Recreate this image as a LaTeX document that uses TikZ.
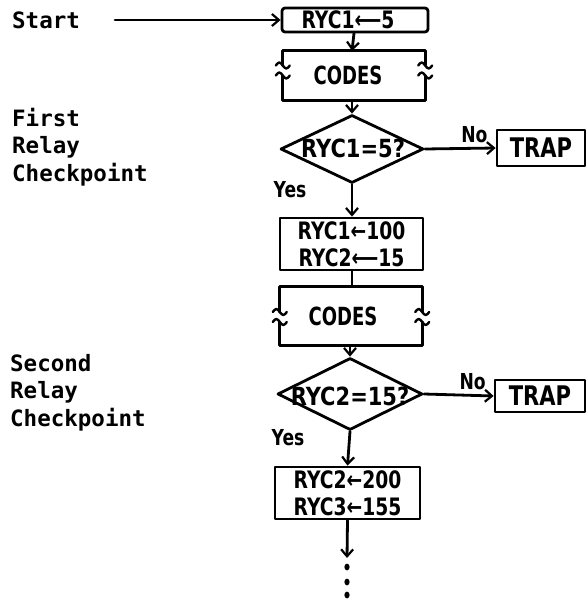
\documentclass[tikz,border=0pt]{standalone}
\usepackage{fontspec}
\usetikzlibrary{arrows.meta,positioning,calc,shapes.geometric}
\newfontfamily\boxfont[FakeStretch=0.78]{DejaVu Sans}
\newfontfamily\codesfont[FakeStretch=0.72]{DejaVu Sans}
\newfontfamily\testfont[FakeStretch=0.84]{DejaVu Sans}
\newfontfamily\sidefont{DejaVu Sans Mono}
\tikzset{
    every picture/.style={line cap=round,line join=round},
    flow/.style={-{Straight Barb[length=7pt,width=12pt,line width=2.2pt]},line width=2.8pt},
    link/.style={line width=2.8pt},
    stepbox/.style={draw,line width=2.8pt,inner sep=0pt,align=center,
      font=\boxfont\bfseries\fontsize{24}{27}\selectfont},
    trapbox/.style={stepbox,font=\boxfont\bfseries\fontsize{27}{27}\selectfont},
    codesbox/.style={inner sep=0pt,font=\codesfont\bfseries\fontsize{25}{27}\selectfont},
    decision/.style={diamond,draw,line width=2.8pt,inner sep=0pt},
    testtext/.style={inner sep=0pt,font=\testfont\bfseries\fontsize{25}{27}\selectfont},
    sidelabel/.style={inner sep=0pt,align=left,
      font=\sidefont\bfseries\fontsize{22.5}{27.5}\selectfont},
    flowlabel/.style={inner sep=1pt,font=\boxfont\bfseries\fontsize{22}{24}\selectfont}
}
% frame of a CODES block, sides broken by a wavy mark
\newcommand\codesframe[2]{%
  \draw[link] (#1.north west) -- (#1.north east);
  \draw[link] (#1.south west) -- (#1.south east);
  \foreach \s in {west,east}{
    \draw[link] (#1.north \s) -- ($(#1.\s)+(0,#2-5)$);
    \draw[link] ($(#1.\s)+(0,#2+5)$) -- (#1.south \s);
    \draw[line width=2.4pt] ($(#1.\s)+(-7,#2-5)$) sin ++(3.5,-3) cos ++(3.5,3) sin ++(3.5,3) cos ++(3.5,-3);
    \draw[line width=2.4pt] ($(#1.\s)+(-7,#2+5)$) sin ++(3.5,-3) cos ++(3.5,3) sin ++(3.5,3) cos ++(3.5,-3);
  }}

\begin{document}
\begin{tikzpicture}[x=1pt,y=-1pt]
  \useasboundingbox (0,0) rectangle (586,601);

  % left hand labels
  \node[sidelabel,anchor=west] (start) at (12,20) {Start};
  \node[sidelabel,anchor=north west] (first) at (12,108) {First\\Relay\\Checkpoint};
  \node[sidelabel,anchor=north west] (second) at (10,354) {Second\\Relay\\Checkpoint};

  % first checkpoint
  \node[stepbox,rounded corners=3pt,minimum width=146pt,minimum height=24pt] (init1) at (355,20) {\hspace*{-14pt}RYC1⟵5};
  \node[codesbox,minimum width=142pt,minimum height=49pt] (codes1) at (354,75.5) {\hspace*{-12pt}\raisebox{-2pt}{CODES}};
  \node[decision,minimum width=143pt,minimum height=68pt] (d1) at (352,149) {};
  \node[testtext] (t1) at (353,148) {RYC1=5?};
  \node[trapbox,minimum width=88pt,minimum height=36pt] (trap1) at (541,148) {TRAP};
  \node[flowlabel] (yes1) at (290,190) {Yes};

  % second checkpoint
  \node[stepbox,minimum width=143pt,minimum height=52pt] (init2) at (351.5,244) {RYC1←100\\RYC2⟵15};
  \node[codesbox,minimum width=142pt,minimum height=58pt] (codes2) at (351,316) {\hspace*{-16pt}\raisebox{-12pt}{CODES}};
  \node[decision,minimum width=145pt,minimum height=72pt] (d2) at (350,394) {};
  \node[testtext] (t2) at (350,396) {RYC2=15?};
  \node[trapbox,minimum width=90pt,minimum height=32pt] (trap2) at (540,396) {TRAP};
  \node[flowlabel] (yes2) at (288,438) {Yes};
  \node[stepbox,minimum width=145pt,minimum height=52pt] (init3) at (347.5,493) {RYC2←200\\RYC3←155};

  \codesframe{codes1}{-5}
  \codesframe{codes2}{1}

  % connectors
  \coordinate (s0) at (115,20);
  \coordinate (more) at (347,558);
  \draw[flow] (s0) -- (init1.west);
  \draw[flow] (init1.south-|codes1.north) -- (codes1.north-|d1.north);
  \draw[flow] (codes1.south-|d1.north) -- (d1.north);
  \draw[flow] (d1.east) -- node[flowlabel,above=3pt,pos=.7]{No} (trap1.west);
  \draw[flow] (d1.south) -- (d1.south|-init2.north);
  \draw[link] (init2.south-|d1.north) -- (codes2.north-|d1.north);
  \draw[flow] (codes2.south-|d2.north) -- (d2.north);
  \draw[flow] (d2.east) -- node[flowlabel,above=3pt,pos=.7]{No} (trap2.west);
  \draw[flow] (d2.south) -- (init3.north);
  \draw[flow] (init3.south) -- (more);
  \foreach \y in {567,582,595}
    \fill (347,\y) ellipse (2.6 and 3.4);
\end{tikzpicture}
\end{document}
